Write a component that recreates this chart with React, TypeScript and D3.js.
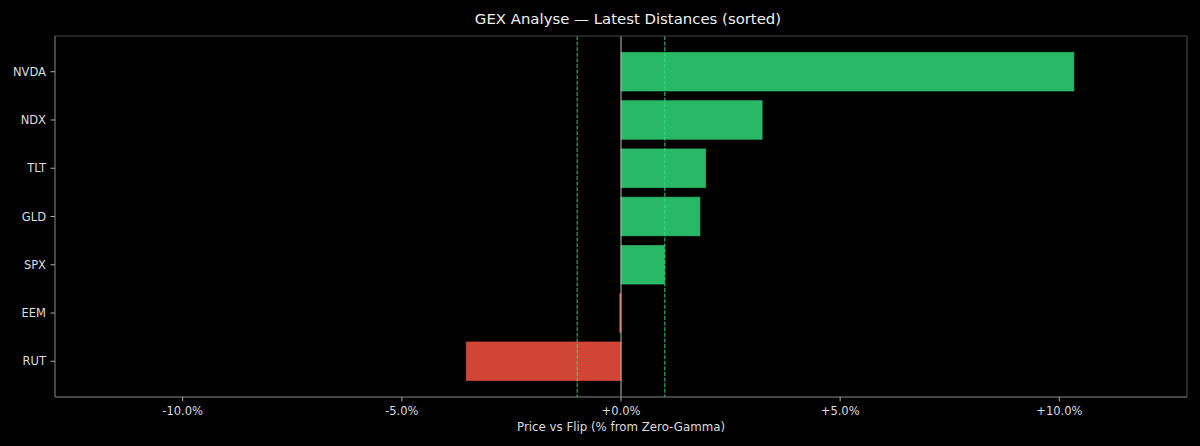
import React, { useEffect } from 'react';
import * as d3 from 'd3';

// Data (% distance of price vs zero-gamma flip), sorted descending
const tickers = ['NVDA', 'NDX', 'TLT', 'GLD', 'SPX', 'EEM', 'RUT'];
const distances = [10.33, 3.22, 1.93, 1.80, 0.99, -0.03, -3.53];
const xTicks = [-10, -5, 0, 5, 10];
const bandLevels = [-1, 1];

const W = 1200;
const H = 446;
const margin = { top: 36, right: 13, bottom: 49, left: 55 };

const fmt = (v: number) => `${v >= 0 ? '+' : ''}${v.toFixed(1)}%`;

const App: React.FC = () => {
  useEffect(() => {
    document.body.style.margin = '0';
    document.body.style.background = '#000';
  }, []);

  const innerW = W - margin.left - margin.right;
  const innerH = H - margin.top - margin.bottom;

  const maxAbs = d3.max(distances, Math.abs)! * 1.25;
  const x = d3.scaleLinear().domain([-maxAbs, maxAbs]).range([0, innerW]);

  // matplotlib-like categorical y: centers at i, bar height 0.8, 5% margins
  const n = tickers.length;
  const lo = -0.4 - 0.05 * (n - 1 + 0.8);
  const hi = n - 1 + 0.4 + 0.05 * (n - 1 + 0.8);
  const y = d3.scaleLinear().domain([lo, hi]).range([0, innerH]);
  const barH = y(0.8) - y(0);

  const font = 'DejaVu Sans, sans-serif';
  const textColor = '#dddddd';

  return (
    <svg width={W} height={H} style={{ display: 'block', background: '#000' }} fontFamily={font}>
      <rect width={W} height={H} fill="#000" />
      <text x={W / 2 + 28} y={24} textAnchor="middle" fill="#f0f0f0" fontSize={14.9}>
        GEX Analyse — Latest Distances (sorted)
      </text>
      <g transform={`translate(${margin.left},${margin.top})`}>
        {tickers.map((t, i) => {
          const v = distances[i];
          const x0 = x(Math.min(0, v));
          const w = Math.abs(x(v) - x(0));
          return (
            <rect
              key={t}
              x={x0}
              y={y(i) - barH / 2}
              width={Math.max(w, 1)}
              height={barH}
              fill={v >= 0 ? '#2ecc71' : '#e74c3c'}
              fillOpacity={0.9}
              stroke={v >= 0 ? '#2ecc71' : '#e74c3c'}
              strokeOpacity={0.6}
              strokeWidth={1}
            />
          );
        })}
        {bandLevels.map((b) => (
          <line
            key={b}
            x1={x(b)}
            x2={x(b)}
            y1={0}
            y2={innerH}
            stroke="#2ee07a"
            strokeOpacity={0.95}
            strokeWidth={1}
            strokeDasharray="4,1.6"
          />
        ))}
        <line x1={x(0)} x2={x(0)} y1={0} y2={innerH} stroke="#bbbbbb" strokeWidth={1} />

        {/* spines */}
        <line x1={0} x2={innerW} y1={0} y2={0} stroke="#444" strokeWidth={1.2} />
        <line x1={innerW} x2={innerW} y1={0} y2={innerH} stroke="#444" strokeWidth={1.2} />
        <line x1={0} x2={0} y1={0} y2={innerH} stroke="#888" strokeWidth={1} />
        <line x1={0} x2={innerW} y1={innerH} y2={innerH} stroke="#888" strokeWidth={1} />

        {/* y ticks */}
        {tickers.map((t, i) => (
          <g key={t} transform={`translate(0,${y(i)})`}>
            <line x1={-4.5} x2={0} stroke="#aaa" strokeWidth={1} />
            <text x={-9} dy="0.35em" textAnchor="end" fill={textColor} fontSize={11.5}>
              {t}
            </text>
          </g>
        ))}

        {/* x ticks */}
        {xTicks.map((v) => (
          <g key={v} transform={`translate(${x(v)},${innerH})`}>
            <line y1={0} y2={4.5} stroke="#aaa" strokeWidth={1} />
            <text y={17.5} textAnchor="middle" fill={textColor} fontSize={11.5}>
              {fmt(v)}
            </text>
          </g>
        ))}
        <text x={x(0)} y={innerH + 34} textAnchor="middle" fill={textColor} fontSize={11.8}>
          Price vs Flip (% from Zero-Gamma)
        </text>
      </g>
    </svg>
  );
};

export default App;
